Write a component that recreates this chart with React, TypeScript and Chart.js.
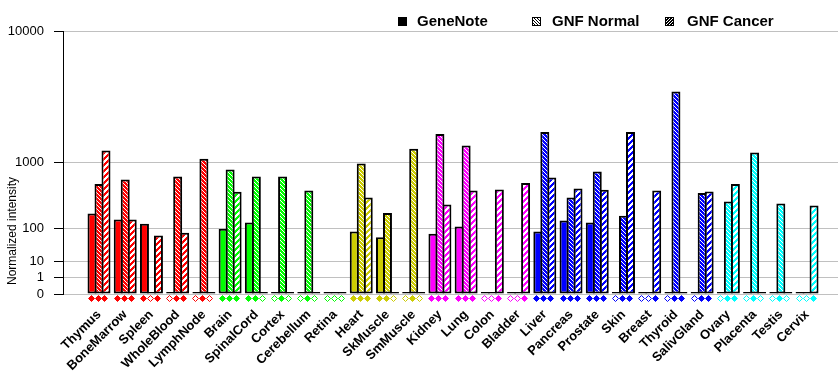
import React, { useEffect, useRef } from 'react';
import { Chart, registerables } from 'chart.js';

Chart.register(...registerables);

const categories = [
  'Thymus', 'BoneMarrow', 'Spleen', 'WholeBlood', 'LymphNode',
  'Brain', 'SpinalCord', 'Cortex', 'Cerebellum', 'Retina',
  'Heart', 'SkMuscle', 'SmMuscle',
  'Kidney', 'Lung', 'Colon', 'Bladder',
  'Liver', 'Pancreas', 'Prostate', 'Skin', 'Breast', 'Thyroid', 'SalivGland',
  'Ovary', 'Placenta', 'Testis', 'Cervix',
];

// null = no data (hollow marker), 0 = measured zero
const geneNote: (number | null)[] = [
  196, 152, 124, null, null,
  97, 132, null, null, null,
  85, 61, null,
  75, 109, null, null,
  85, 145, 132, null, null, null, null,
  null, null, null, null,
];

const gnfNormal: (number | null)[] = [
  551, 631, null, 688, 1096,
  834, 688, 688, 452, null,
  975, 200, 1390,
  1914, 1496, null, null,
  1995, 358, 791, 178, null, 4198, 415,
  311, 1276, 289, null,
];

const gnfCancer: (number | null)[] = [
  1337, 152, 68, 79, null,
  434, null, null, null, null,
  358, null, null,
  279, 452, 467, 568,
  669, 481, 462, 1995, 452, 0, 438,
  551, null, null, 268,
];

const tissueGroup = [
  0, 0, 0, 0, 0,
  1, 1, 1, 1, 1,
  2, 2, 2,
  3, 3, 3, 3,
  4, 4, 4, 4, 4, 4, 4,
  5, 5, 5, 5,
];

const groupColors = ['#ff0000', '#00ff00', '#cccc00', '#ff00ff', '#0000ff', '#00ffff'];

const seriesNames = ['GeneNote', 'GNF Normal', 'GNF Cancer'];
const yTickValues = [0, 1, 10, 100, 1000, 10000];

const series = [geneNote, gnfNormal, gnfCancer];

const EXP = Math.log10(2);
const toT = (v: number) => (v <= 0 ? 0 : Math.pow(v, EXP));

const FONT = '"Liberation Sans", Arial, sans-serif';

function makePattern(color: string, kind: number): CanvasPattern | string {
  if (kind === 0) return color;
  const c = document.createElement('canvas');
  c.width = 12;
  c.height = 12;
  const g = c.getContext('2d')!;
  g.fillStyle = color;
  g.fillRect(0, 0, 12, 12);
  g.fillStyle = '#ffffff';
  for (let y = 0; y < 12; y++) {
    for (let x = 0; x < 12; x++) {
      if (kind === 1) {
        if ((((x - y) % 4) + 4) % 4 === 0) g.fillRect(x, y, 1, 1);
      } else {
        if ((x + y) % 6 < 3) g.fillRect(x, y, 1, 1);
      }
    }
  }
  return g.createPattern(c, 'repeat')!;
}

function makeLegendPattern(kind: number): CanvasPattern | string {
  if (kind === 0) return '#000000';
  const c = document.createElement('canvas');
  c.width = 12;
  c.height = 12;
  const g = c.getContext('2d')!;
  g.fillStyle = '#ffffff';
  g.fillRect(0, 0, 12, 12);
  g.fillStyle = '#000000';
  for (let y = 0; y < 12; y++) {
    for (let x = 0; x < 12; x++) {
      if (kind === 1) {
        if ((((x - y) % 3) + 3) % 3 === 0) g.fillRect(x, y, 1, 1);
      } else {
        if ((x + y) % 3 !== 0) g.fillRect(x, y, 1, 1);
      }
    }
  }
  return g.createPattern(c, 'repeat')!;
}

export default function App() {
  const ref = useRef<HTMLCanvasElement | null>(null);

  useEffect(() => {
    document.body.style.margin = '0';
    const canvas = ref.current!;

    const patterns = [0, 1, 2].map((k) => groupColors.map((col) => makePattern(col, k)));
    const legendPatterns = [0, 1, 2].map((k) => makeLegendPattern(k));

    const datasets = series.map((vals, si) => ({
      label: seriesNames[si],
      data: vals.map((v, i) => ({ x: i, y: toT(v ?? 0) })),
      backgroundColor: categories.map((_, i) => patterns[si][tissueGroup[i]]),
      borderColor: '#000000',
      borderWidth: 2,
      borderSkipped: false,
      minBarLength: 2,
      categoryPercentage: 0.8,
      barPercentage: 1.2857,
      inflateAmount: 0,
    }));

    const overlay = {
      id: 'overlay',
      afterDatasetsDraw(chart: any) {
        const ctx = chart.ctx as CanvasRenderingContext2D;
        const yPix = chart.scales.y.getPixelForValue(0) + 3.5;
        series.forEach((vals, si) => {
          const meta = chart.getDatasetMeta(si);
          vals.forEach((v, i) => {
            const el = meta.data[i];
            if (!el) return;
            const cx = Math.round(el.x - 1.5) + 0.5;
            const cy = Math.round(yPix) + 0.5;
            const color = groupColors[tissueGroup[i]];
            const r = 3;
            ctx.save();
            ctx.beginPath();
            ctx.moveTo(cx, cy - r);
            ctx.lineTo(cx + r, cy);
            ctx.lineTo(cx, cy + r);
            ctx.lineTo(cx - r, cy);
            ctx.closePath();
            ctx.fillStyle = v !== null ? color : '#ffffff';
            ctx.fill();
            ctx.strokeStyle = color;
            ctx.lineWidth = 1;
            ctx.stroke();
            ctx.restore();
          });
        });
      },
      afterDraw(chart: any) {
        const ctx = chart.ctx as CanvasRenderingContext2D;
        ctx.save();
        // legend
        const boxX = [398, 532, 665];
        const textX = [417, 552, 687];
        ctx.font = `bold 15px ${FONT}`;
        ctx.textBaseline = 'middle';
        ctx.textAlign = 'left';
        seriesNames.forEach((name, k) => {
          ctx.fillStyle = legendPatterns[k] as any;
          ctx.fillRect(boxX[k], 17, 9, 9);
          ctx.strokeStyle = '#000';
          ctx.lineWidth = 1;
          ctx.strokeRect(boxX[k] + 0.5, 17.5, 8, 8);
          ctx.fillStyle = '#000';
          ctx.fillText(name, textX[k], 22);
        });
        // y title
        ctx.translate(13, 231);
        ctx.rotate(-Math.PI / 2);
        ctx.font = `12px ${FONT}`;
        ctx.textAlign = 'center';
        ctx.fillStyle = '#000';
        ctx.fillText('Normalized intensity', 0, 0);
        ctx.restore();
      },
    };

    const chart = new Chart(canvas, {
      type: 'bar',
      data: { datasets: datasets as any },
      options: {
        responsive: false,
        animation: false,
        layout: { padding: { top: 31, right: 2, left: 0, bottom: 0 } },
        plugins: {
          legend: { display: false },
          tooltip: { enabled: false },
        },
        scales: {
          x: {
            type: 'linear',
            offset: false,
            min: -1.373,
            max: 28.18,
            grid: { display: false, drawTicks: false },
            border: { display: false },
            afterBuildTicks: (s: any) => {
              s.ticks = categories.map((_, i) => ({ value: i }));
            },
            afterFit: (s: any) => {
              s.height = 91;
            },
            ticks: {
              autoSkip: false,
              minRotation: 45,
              maxRotation: 45,
              padding: 13,
              color: '#000',
              font: { family: FONT, size: 13, weight: 'bold' },
              callback: (_v: any, i: number) => categories[i],
            },
          },
          y: {
            type: 'linear',
            min: 0,
            max: 16,
            afterBuildTicks: (s: any) => {
              s.ticks = yTickValues.map((v) => ({ value: toT(v) }));
            },
            afterFit: (s: any) => {
              s.width = 63;
            },
            ticks: {
              padding: 10,
              color: '#000',
              font: { family: FONT, size: 13 },
              callback: (_v: any, i: number) => String(yTickValues[i]),
            },
            grid: { color: '#c0c0c0', tickColor: '#000', tickLength: 9, lineWidth: 1 },
            border: { display: true, color: '#000', width: 1 },
          },
        },
      } as any,
      plugins: [overlay],
    });

    return () => chart.destroy();
  }, []);

  return (
    <div style={{ width: 840, height: 385, background: '#fff' }}>
      <canvas ref={ref} width={840} height={385} style={{ display: 'block' }} />
    </div>
  );
}
